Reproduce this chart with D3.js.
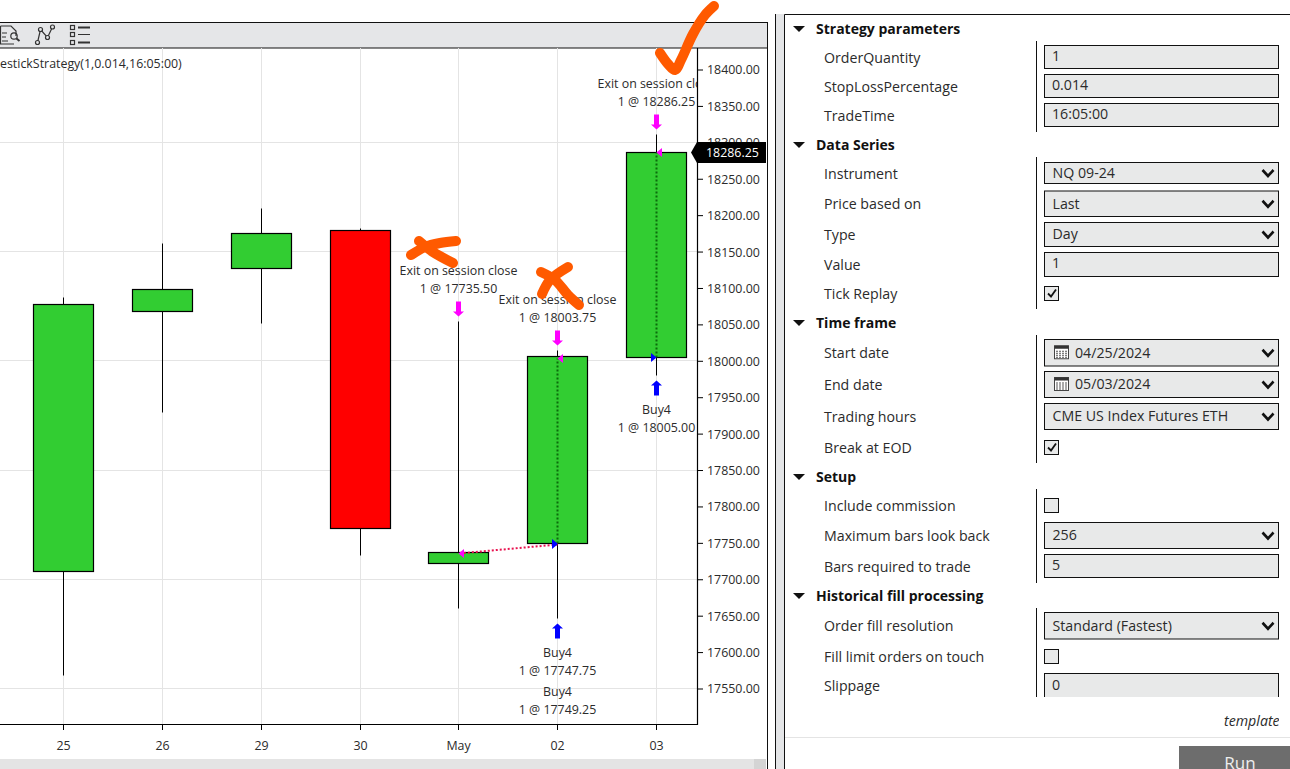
<!DOCTYPE html>
<html>
<head>
<meta charset="utf-8">
<script src="https://d3js.org/d3.v7.min.js"></script>
<style>
    html, body { margin: 0; padding: 0; background: #fff; overflow: hidden; }
    svg { display: block; }
    text { font-family: "Open Sans", "Noto Sans", sans-serif; fill: #2b2b2b; }
</style>
</head>
<body>
<script>
// candles
var days   = ["25", "26", "29", "30", "May", "02", "03"];
var opens  = [17712, 18069, 18127, 18180, 17723, 17749.25, 18005];
var closes = [18078, 18099, 18175, 17771, 17737, 18006, 18287];
var highs  = [18088, 18162, 18210, 18182, 18054, 18015, 18311];
var lows   = [17569, 17929, 18052, 17734, 17660, 17647, 17980];

// price axis
var priceTicks = d3.range(17550, 18401, 50);
var gridPrices = [17550, 17700, 17850, 18000, 18150, 18300];
var lastPrice = 18286.25;

// executions
var exitDays   = ["May", "02", "03"];
var exitPrices = [17735.50, 18003.75, 18286.25];
var buyDays    = ["02", "02", "03"];
var buyPrices  = [17747.75, 17749.25, 18005.00];
var tradeLines = [["02", 17749.25, "02", 18003.75], ["03", 18005.00, "03", 18286.25]];
var lossLines  = [["02", 17747.75, "May", 17735.50]];

// settings panel
var sectionNames = ["Strategy parameters", "Data Series", "Time frame", "Setup", "Historical fill processing"];
var rowLabels = ["OrderQuantity", "StopLossPercentage", "TradeTime", "Instrument", "Price based on", "Type", "Value",
    "Tick Replay", "Start date", "End date", "Trading hours", "Break at EOD", "Include commission",
    "Maximum bars look back", "Bars required to trade", "Order fill resolution", "Fill limit orders on touch", "Slippage"];
var rowValues = ["1", "0.014", "16:05:00", "NQ 09-24", "Last", "Day", "1", "", "04/25/2024", "05/03/2024",
    "CME US Index Futures ETH", "", "", "256", "5", "Standard (Fastest)", "", "0"];
var rowKinds = ["text", "text", "text", "select", "select", "select", "text", "checked", "date", "date", "select",
    "checked", "unchecked", "select", "text", "select", "unchecked", "text"];

// panel layout, separate from the content above
var sectionY = [29, 145, 323, 477, 596];
var rowLabelY = [58, 87, 116, 174, 204, 235, 265, 294, 353, 385, 417, 448, 506, 536, 567, 626, 657, 686];
var rowTop = [45, 74, 103, 162, 190.5, 222, 252, 286, 339, 371, 403, 440, 498, 522, 554, 612, 649, 673];
var rowBottom = [69, 98, 127, 184, 217, 247, 277, 301, 366.5, 398, 430, 455, 513, 549, 578, 639.5, 664, 700];
var splitterRanges = [[41, 132], [157, 309], [335, 463], [489, 583], [608, 697]];

var width = 1290, height = 769;
var plotRight = 697, plotTop = 48, plotBottom = 724;
var bodyWidth = 60;
var plotFont = 12.4, panelFont = 14.2;
var orange = "#ff5a00";

var svg = d3.select("body").append("svg").attr("width", width).attr("height", height);

var x = d3.scalePoint().domain(days).range([63.5, 656.5]);
var y = d3.scaleLinear().domain([17550, 18400]).range([688.5, 69.5]);
// snap to the pixel grid so one pixel lines stay sharp
var cx = function (d) { return Math.floor(x(d)) + 0.5; };
var crisp = function (v) { return Math.floor(v) + 0.5; };
var bodyY = function (v) { return Math.round(y(v)) + 0.5; };

svg.append("clipPath").attr("id", "plotclip").append("rect")
    .attr("x", 0).attr("y", plotTop).attr("width", plotRight).attr("height", plotBottom - plotTop);

//--------------------------toolbar-------------------------
svg.append("rect").attr("x", -2).attr("y", 22.5).attr("width", 769.5).attr("height", 25.5)
    .attr("fill", "#e5e6e8").attr("stroke", "#111").attr("stroke-width", 1);

var icons = svg.append("g").attr("fill", "none").attr("stroke", "#333").attr("stroke-width", 1.2);
icons.append("path").attr("d", "M0.5,26H11L16,31V36M0.5,26V44H14M2,33H7M2,37H6M2,41H8");
icons.append("circle").attr("cx", 14).attr("cy", 36).attr("r", 3.2);
icons.append("path").attr("d", "M16.5,38.5L19.5,41").attr("stroke-width", 2);
icons.append("path").attr("d", "M37.5,42.5L40.5,29.5L47.5,37.5L52.5,27");
[[37.5, 42.5], [40.5, 29.5], [47.5, 37.5], [52.5, 27]].forEach(function (p) {
    icons.append("circle").attr("cx", p[0]).attr("cy", p[1]).attr("r", 2).attr("fill", "#e5e6e8");
});
[27.5, 34.5, 42.5].forEach(function (cy, i) {
    icons.append("rect").attr("x", 70.5).attr("y", cy - 2).attr("width", 4).attr("height", 4);
    icons.append("line").attr("x1", 78).attr("x2", 90).attr("y1", cy).attr("y2", cy)
        .attr("stroke-width", i == 1 ? 1 : 2);
});

//--------------------------plot-------------------------
var plot = svg.append("g").attr("clip-path", "url(#plotclip)");

plot.selectAll(".gridx").data(days).enter().append("line")
    .attr("x1", cx).attr("x2", cx).attr("y1", plotTop).attr("y2", plotBottom)
    .attr("stroke", "#e4e4e4");
plot.selectAll(".gridy").data(gridPrices).enter().append("line")
    .attr("x1", 0).attr("x2", plotRight)
    .attr("y1", function (d) { return crisp(y(d)); })
    .attr("y2", function (d) { return crisp(y(d)); })
    .attr("stroke", "#e4e4e4");

plot.append("text").attr("x", 0).attr("y", 67.5)
    .attr("font-size", plotFont).text("estickStrategy(1,0.014,16:05:00)");

// wicks then bodies
plot.selectAll(".wick").data(days).enter().append("line")
    .attr("x1", cx).attr("x2", cx)
    .attr("y1", function (d, i) { return bodyY(highs[i]); })
    .attr("y2", function (d, i) { return bodyY(lows[i]); })
    .attr("stroke", "#000").attr("stroke-width", 1);
plot.selectAll(".body").data(days).enter().append("rect")
    .attr("x", function (d) { return cx(d) - bodyWidth / 2; })
    .attr("width", bodyWidth)
    .attr("y", function (d, i) { return bodyY(Math.max(opens[i], closes[i])); })
    .attr("height", function (d, i) {
        return bodyY(Math.min(opens[i], closes[i])) - bodyY(Math.max(opens[i], closes[i]));
    })
    .attr("fill", function (d, i) { return closes[i] >= opens[i] ? "#32cd32" : "#ff0000"; })
    .attr("stroke", "#000").attr("stroke-width", 1.2);

// execution connectors
var drawConnectors = function (rows, colour) {
    plot.selectAll(null).data(rows).enter().append("line")
        .attr("x1", function (d) { return cx(d[0]); })
        .attr("y1", function (d) { return bodyY(d[1]); })
        .attr("x2", function (d) { return cx(d[2]); })
        .attr("y2", function (d) { return bodyY(d[3]); })
        .attr("stroke", colour).attr("stroke-width", 2).attr("stroke-dasharray", "2,2");
};
drawConnectors(tradeLines, "#0b6b0b");
drawConnectors(lossLines, "#e8124f");

var labelLines = function (dayName, cy, first, second) {
    plot.append("text").attr("x", cx(dayName)).attr("y", cy).attr("dy", "0.35em")
        .attr("text-anchor", "middle").attr("font-size", plotFont).text(first);
    plot.append("text").attr("x", cx(dayName)).attr("y", cy + 18).attr("dy", "0.35em")
        .attr("text-anchor", "middle").attr("font-size", plotFont).text(second);
};

// exits: triangle on the fill, arrow and label above the wick
exitDays.forEach(function (dayName, i) {
    var px = cx(dayName), high = highs[days.indexOf(dayName)], fy = bodyY(exitPrices[i]);
    plot.append("path").attr("fill", "#ff00ff")
        .attr("d", d3.line()([[px, fy], [px + 5.5, fy - 4.5], [px + 5.5, fy + 4.5]]) + "Z");
    var tip = bodyY(high) - 5;
    plot.append("path").attr("fill", "#ff00ff")
        .attr("d", d3.line()([[px - 2.5, tip - 15], [px + 2.5, tip - 15], [px + 2.5, tip - 5], [px + 5.5, tip - 5],
            [px, tip], [px - 5.5, tip - 5], [px - 2.5, tip - 5]]) + "Z");
    labelLines(dayName, bodyY(high) - 50.5, "Exit on session close", "1 @ " + d3.format(".2f")(exitPrices[i]));
});

// buys: triangle on the fill, arrow and label below the wick
buyDays.forEach(function (dayName, i) {
    var px = cx(dayName), low = lows[days.indexOf(dayName)], fy = bodyY(buyPrices[i]);
    plot.append("path").attr("fill", "#0000ff")
        .attr("d", d3.line()([[px, fy], [px - 5.5, fy - 4.5], [px - 5.5, fy + 4.5]]) + "Z");
    var second = buyDays.indexOf(dayName) != i;
    var labelY = bodyY(low) + 34.5 + (second ? 39 : 0);
    if (!second) {
        var tip = bodyY(low) + 5;
        plot.append("path").attr("fill", "#0000ff")
            .attr("d", d3.line()([[px - 2.5, tip + 15], [px + 2.5, tip + 15], [px + 2.5, tip + 5], [px + 5.5, tip + 5],
                [px, tip], [px - 5.5, tip + 5], [px - 2.5, tip + 5]]) + "Z");
    }
    labelLines(dayName, labelY, "Buy4", "1 @ " + d3.format(".2f")(buyPrices[i]));
});

//--------------------------axes-------------------------
var yAxis = svg.append("g").attr("transform", "translate(" + plotRight + ",0)")
    .call(d3.axisRight(y).tickValues(priceTicks).tickSize(6).tickPadding(4).tickFormat(d3.format(".2f")));
yAxis.select(".domain").remove();
yAxis.selectAll("text").attr("font-size", plotFont).attr("dy", "0.36em");
yAxis.selectAll("line").attr("stroke", "#000");

var xAxis = svg.append("g").attr("transform", "translate(0," + plotBottom + ")")
    .call(d3.axisBottom(x).tickSize(6).tickPadding(11));
xAxis.select(".domain").remove();
xAxis.selectAll(".tick").attr("transform", function (d) { return "translate(" + cx(d) + ",0)"; });
xAxis.selectAll("text").attr("font-size", plotFont);
xAxis.selectAll("line").attr("stroke", "#000");

svg.append("path").attr("fill", "none").attr("stroke", "#000").attr("stroke-width", 1.2)
    .attr("d", "M0," + (plotBottom + 0.5) + "H" + (plotRight + 0.5) + "V" + plotTop);

// last price flag
var lastY = bodyY(lastPrice);
svg.append("path").attr("fill", "#000")
    .attr("d", d3.line()([[691, lastY], [697, lastY - 10.5], [766, lastY - 10.5], [766, lastY + 10.5], [697, lastY + 10.5]]) + "Z");
svg.append("text").attr("x", 706).attr("y", lastY).attr("dy", "0.35em")
    .attr("font-size", plotFont).style("fill", "#fff").text(d3.format(".2f")(lastPrice));

// window furniture
svg.append("rect").attr("x", 0).attr("y", 759).attr("width", 766).attr("height", 10).attr("fill", "#e4e4e4");
svg.append("rect").attr("x", 754).attr("y", 759).attr("width", 12).attr("height", 10).attr("fill", "#d4d4d4");
svg.append("line").attr("x1", 767.5).attr("x2", 767.5).attr("y1", 22).attr("y2", height).attr("stroke", "#111");
svg.append("rect").attr("x", 775.5).attr("y", 14).attr("width", 9).attr("height", height).attr("fill", "#e4e5e7");
svg.append("line").attr("x1", 775.5).attr("x2", 775.5).attr("y1", 14).attr("y2", height).attr("stroke", "#111");
svg.append("path").attr("fill", "none").attr("stroke", "#111").attr("d", "M784.5," + height + "V14.5H" + width);

//--------------------------settings panel-------------------------
var panel = svg.append("g");

panel.selectAll(".section").data(sectionNames).enter().append("text")
    .attr("x", 816).attr("y", function (d, i) { return sectionY[i]; }).attr("dy", "0.35em")
    .attr("font-size", 14).attr("font-weight", 700).style("fill", "#111").text(function (d) { return d; });
panel.selectAll(".caret").data(sectionNames).enter().append("path").attr("fill", "#111")
    .attr("d", function (d, i) {
        var cy = sectionY[i];
        return d3.line()([[793, cy - 3], [805, cy - 3], [799, cy + 3]]) + "Z";
    });

panel.selectAll(".splitter").data(splitterRanges).enter().append("line")
    .attr("x1", 1036.5).attr("x2", 1036.5)
    .attr("y1", function (d) { return d[0]; }).attr("y2", function (d) { return d[1]; })
    .attr("stroke", "#111");

panel.selectAll(".rowlabel").data(rowLabels).enter().append("text")
    .attr("x", 824).attr("y", function (d, i) { return rowLabelY[i]; }).attr("dy", "0.35em")
    .attr("font-size", panelFont).text(function (d) { return d; });

svg.append("clipPath").attr("id", "panelclip").append("rect")
    .attr("x", 785).attr("y", 15).attr("width", 505).attr("height", 682);
var fields = panel.append("g").attr("clip-path", "url(#panelclip)");

rowLabels.forEach(function (label, i) {
    var kind = rowKinds[i], top = rowTop[i], bottom = rowBottom[i], mid = (top + bottom) / 2;
    var isBox = kind == "checked" || kind == "unchecked";
    fields.append("rect")
        .attr("x", 1044.5).attr("y", top + 0.5)
        .attr("width", isBox ? 14 : 234).attr("height", bottom - top - 1)
        .attr("fill", "#e8e9e9").attr("stroke", "#111").attr("stroke-width", 1);
    if (kind == "checked")
        fields.append("path").attr("fill", "none").attr("stroke", "#111").attr("stroke-width", 1.8)
            .attr("d", d3.line()([[1048, mid], [1051, mid + 3], [1056, mid - 4]]));
    if (kind == "select" || kind == "date")
        fields.append("path").attr("fill", "none").attr("stroke", "#111").attr("stroke-width", 2.6)
            .attr("d", d3.line()([[1262.5, mid - 3], [1268, mid + 3], [1273.5, mid - 3]]));
    if (kind == "date") {
        fields.append("rect").attr("x", 1054.5).attr("y", mid - 7).attr("width", 14).attr("height", 13)
            .attr("fill", "#fff").attr("stroke", "#444");
        fields.append("rect").attr("x", 1054.5).attr("y", mid - 7).attr("width", 14).attr("height", 3).attr("fill", "#333");
        fields.append("path").attr("fill", "none").attr("stroke", "#555").attr("stroke-dasharray", "2,1")
            .attr("d", "M1056," + (mid - 1.5) + "H1067M1056," + (mid + 0.5) + "H1067M1056," + (mid + 2.5) + "H1067M1056," + (mid + 4.5) + "H1067");
    }
    if (rowValues[i])
        fields.append("text")
            .attr("x", kind == "date" ? 1075 : kind == "select" ? 1052.5 : 1052)
            .attr("y", mid - (kind == "text" ? 1 : 0)).attr("dy", "0.35em")
            .attr("font-size", panelFont).text(rowValues[i]);
});

svg.append("clipPath").attr("id", "templateclip").append("rect")
    .attr("x", 1200).attr("y", 705).attr("width", 79).attr("height", 30);
panel.append("text").attr("x", 1224).attr("y", 721).attr("dy", "0.35em").attr("font-size", panelFont)
    .attr("font-style", "italic").attr("clip-path", "url(#templateclip)").text("templates");

panel.append("line").attr("x1", 785).attr("x2", width).attr("y1", 737.5).attr("y2", 737.5).attr("stroke", "#e4e4e4");
panel.append("rect").attr("x", 1179).attr("y", 746).attr("width", 111).attr("height", 23).attr("fill", "#6d6d6d");
panel.append("text").attr("x", 1240).attr("y", 769).attr("text-anchor", "middle").attr("font-size", 17)
    .style("fill", "#eee").text("Run");

//--------------------------hand drawn marks-------------------------
var scribble = d3.line().curve(d3.curveCatmullRom);
var scribbles = [
    [[660, 53], [668, 64], [675, 70], [681, 60], [693, 34], [705, 15], [714, 6]],
    [[411, 255], [425, 247], [440, 243], [456, 241]],
    [[419, 241], [433, 252], [453, 263]],
    [[542, 294], [550, 280], [568, 267]],
    [[541, 272], [555, 280], [568, 295], [579, 305]]
];
svg.selectAll(".scribble").data(scribbles).enter().append("path")
    .attr("d", function (d) { return scribble(d); })
    .attr("fill", "none").attr("stroke", orange).attr("stroke-width", 10)
    .attr("stroke-linecap", "round").attr("stroke-linejoin", "round");
</script>
</body>
</html>
